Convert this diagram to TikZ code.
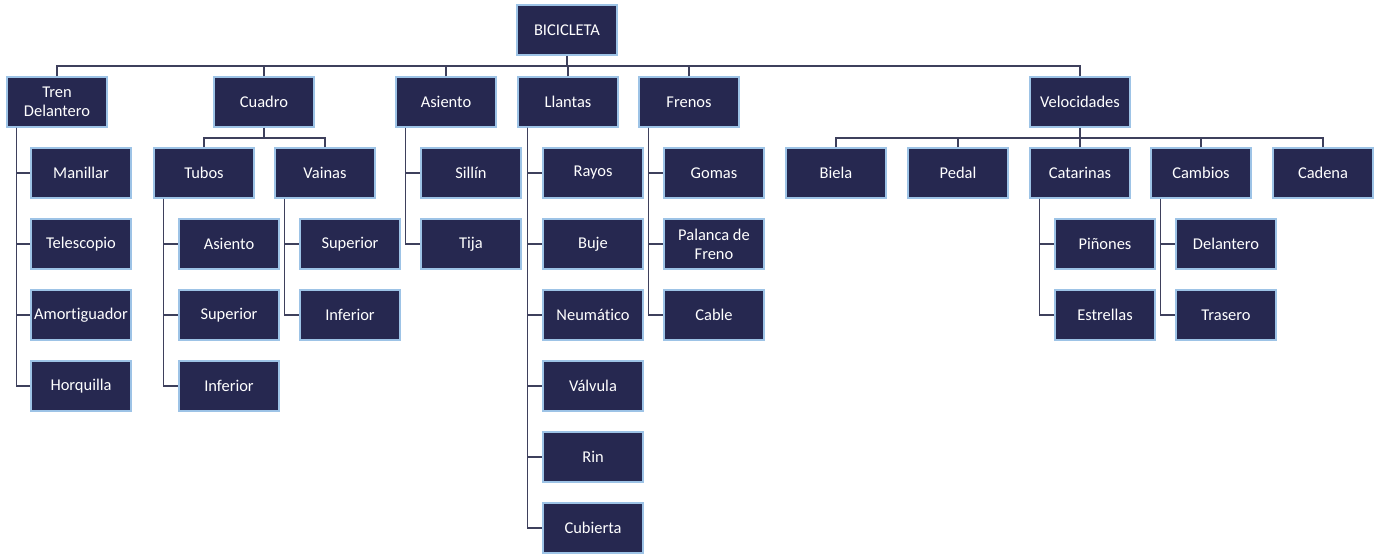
\documentclass[tikz,border=0pt]{standalone}
\usepackage{fontspec}
\setmainfont[Ligatures=NoCommon]{Carlito}
\usepackage{tikz}
\usepackage{xcolor}
\definecolor{boxfill}{RGB}{38,40,80}
\definecolor{boxedge}{RGB}{157,195,230}
\definecolor{linkcol}{RGB}{62,64,92}

\begin{document}
\begin{tikzpicture}[x=0.025cm,y=-0.025cm,
  part/.style={draw=boxedge,fill=boxfill,text=white,line width=0.9pt,
    minimum width=2.5cm,minimum height=1.25cm,inner sep=1pt,align=center,
    font=\fontsize{11.7}{13.5}\selectfont},
  link/.style={draw=linkcol,line width=1.2pt}]
%\draw[help lines](0,0)grid(1376,555);
\useasboundingbox (0,0) rectangle (1376,555);
% root and first level
\node[part] (bici) at (567,30) {BICICLETA};
\node[part] (tren) at (57,102) {Tren\\Delantero};
\node[part] (cuadro) at (264,102) {Cuadro};
\node[part] (asiento) at (446,102) {Asiento};
\node[part] (llantas) at (568,102) {Llantas};
\node[part] (frenos) at (689,102) {Frenos};
\node[part] (veloc) at (1080,102) {Velocidades};
\coordinate (bus) at (567,66);
\draw[link] (bici.south)--(bus);
\foreach \c in {tren,cuadro,asiento,llantas,frenos,veloc}
  \draw[link] (\c.north) |- (bus);

% Tren delantero
\foreach \n/\t [count=\i] in {manillar/Manillar,telescopio/Telescopio,amortig/Amortiguador,horquilla/Horquilla}{
  \node[part] (\n) at (81,173-71+71*\i) {\t};
  \draw[link] ([xshift=10*0.025cm]tren.south west) |- (\n.west);
}

% Cuadro
\node[part] (tubos) at (204,173) {Tubos};
\node[part] (vainas) at (325,173) {Vainas};
\coordinate (cbus) at (264,138);
\draw[link] (cuadro.south)--(cbus);
\draw[link] (tubos.north) |- (cbus);
\draw[link] (vainas.north) |- (cbus);
\foreach \n/\t [count=\i] in {tasiento/Asiento,tsuperior/Superior,tinferior/Inferior}{
  \node[part] (\n) at (229,173+71*\i) {\t};
  \draw[link] ([xshift=10*0.025cm]tubos.south west) |- (\n.west);
}
\foreach \n/\t [count=\i] in {vsuperior/Superior,vinferior/Inferior}{
  \node[part] (\n) at (350,173+71*\i) {\t};
  \draw[link] ([xshift=10*0.025cm]vainas.south west) |- (\n.west);
}

% Asiento
\foreach \n/\t [count=\i] in {sillin/Sillín,tija/Tija}{
  \node[part] (\n) at (471,173-71+71*\i) {\t};
  \draw[link] ([xshift=10*0.025cm]asiento.south west) |- (\n.west);
}

% Llantas
\foreach \n/\t [count=\i] in {rayos/Rayos,buje/Buje,neumatico/Neumático,valvula/Válvula,rin/Rin,cubierta/Cubierta}{
  \node[part] (\n) at (593,173-71+71*\i) {\t};
  \draw[link] ([xshift=10*0.025cm]llantas.south west) |- (\n.west);
}

% Frenos
\foreach \n/\t [count=\i] in {gomas/Gomas,palanca/{Palanca de\\Freno},cable/Cable}{
  \node[part] (\n) at (714,173-71+71*\i) {\t};
  \draw[link] ([xshift=10*0.025cm]frenos.south west) |- (\n.west);
}

% Velocidades
\coordinate (vbus) at (1080,138);
\draw[link] (veloc.south)--(vbus);
\foreach \n/\t/\x in {biela/Biela/836,pedal/Pedal/958,catarinas/Catarinas/1080,cambios/Cambios/1201,cadena/Cadena/1323}{
  \node[part] (\n) at (\x,173) {\t};
  \draw[link] (\n.north) |- (vbus);
}
\foreach \n/\t [count=\i] in {pinones/Piñones,estrellas/Estrellas}{
  \node[part] (\n) at (1105,173+71*\i) {\t};
  \draw[link] ([xshift=10*0.025cm]catarinas.south west) |- (\n.west);
}
\foreach \n/\t [count=\i] in {cdelantero/Delantero,ctrasero/Trasero}{
  \node[part] (\n) at (1226,173+71*\i) {\t};
  \draw[link] ([xshift=10*0.025cm]cambios.south west) |- (\n.west);
}
\end{tikzpicture}
\end{document}
